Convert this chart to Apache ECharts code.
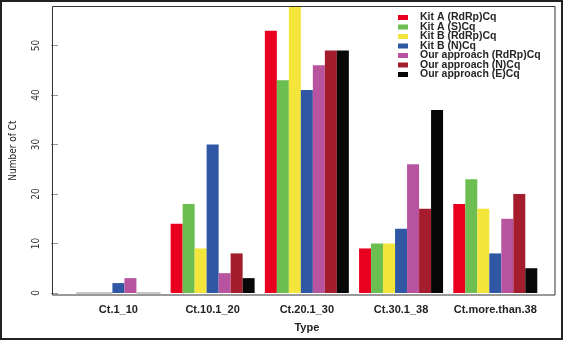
<!DOCTYPE html>
<html>
<head>
<meta charset="utf-8">
<style>
  html, body { margin: 0; padding: 0; background: #fff; }
  #chart { width: 563px; height: 340px; }
</style>
<script src="https://cdn.jsdelivr.net/npm/echarts@6/dist/echarts.min.js"></script>
</head>
<body>
<div id="chart"></div>
<script>
// Ct ranges on the category axis
const categories = ['Ct.1_10', 'Ct.10.1_20', 'Ct.20.1_30', 'Ct.30.1_38', 'Ct.more.than.38'];

// Number of Ct per range, one array per assay
const kitA_RdRp = [0, 14, 53, 9, 18];
const kitA_S    = [0, 18, 43, 10, 23];
const kitB_RdRp = [0, 9, 58, 10, 17];
const kitB_N    = [2, 30, 41, 13, 8];
const our_RdRp  = [3, 4, 46, 26, 15];
const our_N     = [0, 8, 49, 17, 20];
const our_E     = [0, 3, 49, 37, 5];

const seriesNames = [
  'Kit A (RdRp)Cq', 'Kit A (S)Cq', 'Kit B (RdRp)Cq', 'Kit B (N)Cq',
  'Our approach (RdRp)Cq', 'Our approach (N)Cq', 'Our approach (E)Cq'
];
const seriesValues = [kitA_RdRp, kitA_S, kitB_RdRp, kitB_N, our_RdRp, our_N, our_E];
const seriesColors = ['#E8001E', '#6BBE4F', '#F3E53A', '#2F57A3', '#B8549F', '#A41D2C', '#070707'];

// Y tick values
const yTicks = [0, 10, 20, 30, 40, 50];

const chart = echarts.init(document.getElementById('chart'), null, { renderer: 'canvas' });

const series = seriesNames.map((name, i) => ({
  name: name,
  type: 'bar',
  barWidth: 12,
  barGap: '0%',
  itemStyle: { color: seriesColors[i] },
  // empty bars are still outlined along the baseline
  data: seriesValues[i].map(v => v === 0
    ? { value: v, itemStyle: { borderColor: '#b4b4b4', borderWidth: 1 } }
    : v)
}));

chart.setOption({
  animation: false,
  backgroundColor: '#fff',
  grid: { left: 65.3, right: 20.6, top: 6, bottom: 44.8, containLabel: false },
  legend: {
    orient: 'vertical',
    left: 393,
    top: 7,
    itemWidth: 10,
    itemHeight: 5,
    itemGap: -1.5,
    icon: 'rect',
    selectedMode: false,
    textStyle: {
      fontFamily: '"Liberation Sans", Arial, sans-serif',
      fontSize: 10.5,
      fontWeight: 'bold',
      color: '#262626',
      padding: [0, 0, 0, 7]
    },
    data: seriesNames
  },
  xAxis: {
    type: 'category',
    data: categories,
    axisLine: { show: false },
    axisTick: { show: false },
    axisLabel: {
      interval: 0,
      margin: 9,
      fontFamily: '"Liberation Sans", Arial, sans-serif',
      fontSize: 11,
      fontWeight: 'bold',
      color: '#222'
    },
    name: 'Type',
    nameLocation: 'middle',
    nameGap: 27,
    nameTextStyle: {
      fontFamily: '"Liberation Sans", Arial, sans-serif',
      fontSize: 11,
      fontWeight: 'bold',
      color: '#222'
    }
  },
  yAxis: {
    type: 'value',
    min: -0.45,
    max: 58,
    offset: 13.3,
    splitLine: { show: false },
    axisLine: { show: false },
    axisTick: {
      show: true,
      length: 7,
      lineStyle: { color: '#9a9a9a' },
      customValues: yTicks
    },
    axisLabel: {
      rotate: 90,
      margin: 17,
      fontFamily: '"Liberation Sans Narrow", "DejaVu Sans Condensed", Arial, sans-serif',
      fontSize: 10,
      color: '#333',
      customValues: yTicks
    },
    name: 'Number of Ct',
    nameLocation: 'middle',
    nameRotate: 90,
    nameGap: 40,
    nameTextStyle: {
      fontFamily: '"Liberation Sans Narrow", "DejaVu Sans Condensed", Arial, sans-serif',
      fontSize: 10,
      color: '#222'
    }
  },
  series: series,
  graphic: [
    // plot box
    {
      type: 'rect',
      z: 100,
      silent: true,
      shape: { x: 52.5, y: 6.5, width: 502.5, height: 288.5 },
      style: { fill: 'none', stroke: '#333', lineWidth: 1 }
    },
    // outer frame
    {
      type: 'rect',
      z: 100,
      silent: true,
      shape: { x: 1, y: 1, width: 561, height: 338 },
      style: { fill: 'none', stroke: '#222', lineWidth: 2 }
    }
  ]
});
</script>
</body>
</html>
